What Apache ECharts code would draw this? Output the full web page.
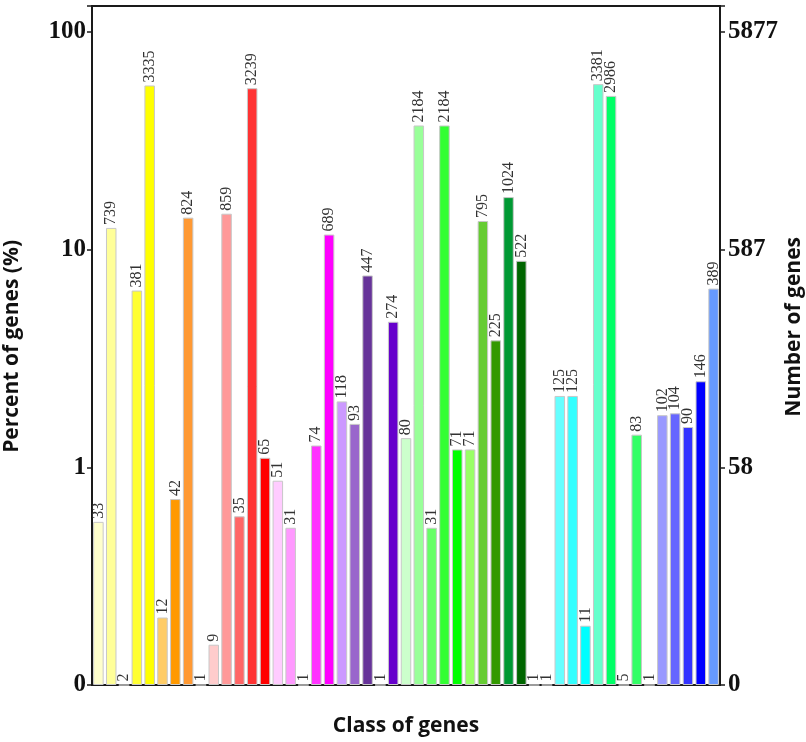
<!DOCTYPE html>
<html>
<head>
<meta charset="utf-8">
<script src="https://cdn.jsdelivr.net/npm/echarts@6/dist/echarts.min.js"></script>
<style>html,body{margin:0;padding:0;background:#fff}#c{width:806px;height:742px}</style>
</head>
<body>
<div id="c"></div>
<script>
const totalGenes = 5877;
const geneCounts = [33, 739, 2, 381, 3335, 12, 42, 824, 1, 9, 859, 35, 3239, 65, 51, 31, 1,
  74, 689, 118, 93, 447, 1, 274, 80, 2184, 31, 2184, 71, 71, 795, 225, 1024, 522, 1, 1,
  125, 125, 11, 3381, 2986, 5, 83, 1, 102, 104, 90, 146, 389];
const barColors = ['#FFFFCC', '#FFFF99', '#FFFF66', '#FFFF33', '#FFFF00', '#FFCC66', '#FF9900', '#FF9933', '#FFCC99',
  '#FFCCCC', '#FF9999', '#FF6666', '#FF3333', '#FF0000', '#FFCCFF', '#FF99FF', '#FFCCFF',
  '#FF33FF', '#FF00FF', '#CC99FF', '#9966CC', '#663399', '#CC99FF', '#6600CC', '#CCFFCC', '#99FF99',
  '#66FF66', '#33FF33', '#00FF00', '#99FF66', '#66CC33', '#339900', '#009933', '#006600', '#CCCCCC', '#CCCCCC',
  '#66FFFF', '#33FFFF', '#00FFFF', '#66FFCC', '#00FF66', '#99FFCC', '#33FF66', '#CCCCFF',
  '#9999FF', '#6666FF', '#3333FF', '#0000FF', '#6699FF'];
const categories = geneCounts.map((_, i) => 'Class ' + (i + 1));
const leftTicks = {'0.1': '0', '1': '1', '10': '10', '100': '100'};
const rightTicks = {'0.1': '0', '1': '58', '10': '587', '100': '5877'};
const axisMin = 0.1, axisMax = 131.5;

const percents = geneCounts.map(c => Math.max(c / totalGenes * 100, axisMin));

function tickLabel(map) {
  return function (v) {
    const l = Math.log10(v);
    if (Math.abs(l - Math.round(l)) > 1e-6) return '';
    const key = String(Math.pow(10, Math.round(l)) >= 1 ? Math.round(Math.pow(10, Math.round(l))) : 0.1);
    return map[key] !== undefined ? map[key] : '';
  };
}

const chart = echarts.init(document.getElementById('c'), null, {renderer: 'canvas'});
chart.setOption({
  animation: false,
  color: barColors,
  grid: {left: 92, right: 86, top: 6, bottom: 56, show: true, borderColor: '#1a1a1a', borderWidth: 2, backgroundColor: 'transparent'},
  xAxis: {
    type: 'category', data: categories,
    name: 'Class of genes', nameLocation: 'middle', nameGap: 31,
    nameTextStyle: {fontFamily: 'Open Sans', fontWeight: 'bold', fontSize: 21, color: '#111'},
    axisLine: {lineStyle: {color: '#1a1a1a', width: 2}},
    axisTick: {show: false}, axisLabel: {show: false}
  },
  yAxis: [{
    type: 'log', logBase: 10, min: axisMin, max: axisMax, startValue: axisMin,
    axisLine: {show: true, lineStyle: {color: '#1a1a1a', width: 2}},
    axisTick: {show: true, length: 5, lineStyle: {color: '#1a1a1a', width: 1.5}},
    splitLine: {show: false},
    axisLabel: {formatter: tickLabel(leftTicks), fontFamily: 'Liberation Serif', fontWeight: 'bold', fontSize: 25, color: '#111', margin: 6}
  }, {
    type: 'log', logBase: 10, min: axisMin, max: axisMax, position: 'right',
    axisLine: {show: true, lineStyle: {color: '#1a1a1a', width: 2}},
    axisTick: {show: true, length: 5, lineStyle: {color: '#1a1a1a', width: 1.5}},
    splitLine: {show: false},
    axisLabel: {formatter: tickLabel(rightTicks), fontFamily: 'Liberation Serif', fontWeight: 'bold', fontSize: 25, color: '#111', margin: 8}
  }],
  graphic: [{
    type: 'text', left: 2, top: 240, rotation: Math.PI / 2,
    style: {text: 'Percent of genes (%)', font: 'bold 21px "Open Sans"', fill: '#111'}
  }, {
    type: 'text', right: 1, top: 237, rotation: Math.PI / 2,
    style: {text: 'Number of genes', font: 'bold 21px "Open Sans"', fill: '#111'}
  }],
  series: [{
    type: 'bar', yAxisIndex: 0, colorBy: 'data',
    data: percents,
    barCategoryGap: '18%',
    itemStyle: {borderColor: '#c8c8c8', borderWidth: 1},
    label: {
      show: true, position: 'top', rotate: 90, align: 'left', verticalAlign: 'middle', distance: 3,
      fontFamily: 'Liberation Serif', fontSize: 16, color: '#333',
      formatter: p => String(geneCounts[p.dataIndex])
    }
  }]
});
</script>
</body>
</html>
